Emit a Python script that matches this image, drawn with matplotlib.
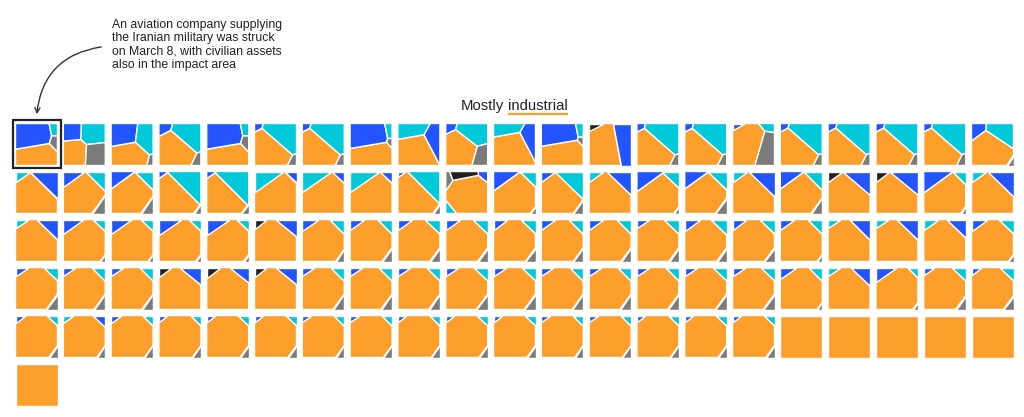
import matplotlib
matplotlib.use("Agg")
import matplotlib.pyplot as plt
from matplotlib.patches import Polygon, Rectangle, FancyArrowPatch

plt.rcParams['font.family'] = ['Liberation Sans', 'DejaVu Sans']

# share of each asset type per struck site, row by row (21 per row, last row 1)
orange = [
    .45, .32, .42, .55, .45, .55, .55, .48, .56, .50, .62, .53, .64, .55, .55, .64, .56, .56, .56, .56, .63,
    .74, .73, .72, .63, .62, .79, .79, .79, .67, .77, .77, .70, .80, .75, .73, .78, .73, .78, .78, .76, .78,
    .85, .87, .87, .85, .85, .87, .86, .86, .86, .86, .86, .86, .86, .87, .84, .86, .89, .85, .85, .86, .88,
    .87, .87, .87, .87, .88, .87, .87, .87, .87, .87, .87, .87, .87, .87, .87, .87, .89, .87, .88, .89, .89,
    .92, .91, .92, .925, .925, .925, .925, .925, .925, .925, .925, .925, .925, .925, .925, .925, 1, 1, 1, 1, 1,
    1,
]
blue = [
    .45, .17, .30, .07, .45, .03, .03, .45, .22, .05, .20, .40, .33, .03, .03, .02, .03, .03, .03, .03, .10,
    .22, .09, .12, .02, .02, .04, .04, .04, .01, .04, .15, .04, .16, .16, .12, .18, .12, .18, .18, .18, .18,
    .12, .08, .08, .10, .10, .10, .05, .04, .04, .04, .04, .04, .04, .03, .05, .04, .04, .12, .12, .10, .05,
    .03, .03, .03, .10, .08, .10, .03, .03, .03, .03, .03, .03, .03, .03, .03, .03, .05, .10, .08, .02, .02,
    .02, .04, .02, .015, .015, .015, .015, .015, .015, .015, .015, .015, .015, .015, .015, .015, 0, 0, 0, 0, 0,
    0,
]
cyan = [
    .05, .27, .25, .33, .05, .38, .38, .05, .22, .30, .18, .05, 0, .38, .38, .06, .37, .37, .37, .37, .25,
    .04, .11, .10, .33, .34, .17, .17, .17, .30, .04, .07, .22, .04, .08, .10, .04, .10, 0, 0, .05, .04,
    .03, .04, .04, .04, .04, 0, .06, .06, .06, .06, .06, .06, .06, .06, .07, .06, .06, .03, .03, .04, .06,
    .05, .05, .05, 0, 0, 0, .05, .05, .05, .05, .05, .05, .05, .05, .05, .05, .05, .03, .03, .05, .05,
    .03, .02, .03, .03, .03, .03, .03, .03, .03, .03, .03, .03, .03, .03, .03, .03, 0, 0, 0, 0, 0,
    0,
]
gray = [
    .05, .24, .03, .05, .05, .04, .04, .02, 0, .15, 0, .02, 0, .04, .04, .28, .04, .04, .04, .04, .02,
    0, .07, .06, .02, .02, 0, 0, 0, .02, .05, .01, .04, 0, .01, .05, 0, .05, 0, 0, .01, 0,
    0, .01, .01, .01, .01, 0, .03, .04, .04, .04, .04, .04, .04, .04, .04, .04, .01, 0, 0, 0, .01,
    .05, .05, .05, 0, 0, 0, .05, .05, .05, .05, .05, .05, .05, .05, .05, .05, .01, 0, .01, .04, .04,
    .03, .03, .03, .03, .03, .03, .03, .03, .03, .03, .03, .03, .03, .03, .03, .03, 0, 0, 0, 0, 0,
    0,
]
black = [
    0, 0, 0, 0, 0, 0, 0, 0, 0, 0, 0, 0, .03, 0, 0, 0, 0, 0, 0, 0, 0,
    0, 0, 0, 0, 0, 0, 0, 0, 0, .10, 0, 0, 0, 0, 0, 0, 0, .04, .04, 0, 0,
    0, 0, 0, 0, 0, .03, 0, 0, 0, 0, 0, 0, 0, 0, 0, 0, 0, 0, 0, 0, 0,
    0, 0, 0, .03, .04, .03, 0, 0, 0, 0, 0, 0, 0, 0, 0, 0, 0, 0, 0, 0, 0,
    0, 0, 0, 0, 0, 0, 0, 0, 0, 0, 0, 0, 0, 0, 0, 0, 0, 0, 0, 0, 0,
    0,
]

title_left, title_right = "Mostly", "industrial"
note = ("An aviation company supplying\nthe Iranian military was struck\n"
        "on March 8, with civilian assets\nalso in the impact area")

# ---- layout: seed points for the little power-diagram squares ----
layout_rows = ["TQ3DTDDTRXRTMDDSDDDDZ",
               "BAAAABBBAWAABAABAKKAB",
               "BAAAAKAAAAAAAAAAABBBA",
               "AAAKKKAAAAAAAAAAABAAA",
               "ABAAAAAAAAAAAAAAAAAAA",
               "A"]
TL, TR, BR, BL = (0.0, 1.0), (1.0, 1.0), (1.0, 0.0), (0.0, 0.0)
MID = (0.42, 0.42)
SITES = {
    'A': dict(o=MID, b=TL, c=TR, g=BR),
    'B': dict(o=MID, c=TL, b=TR, g=BR),
    'K': dict(o=(0.48, 0.38), k=TL, b=TR, g=BR),
    'T': dict(o=(0.47, 0.15), b=(0.36, 0.8), c=(0.97, 0.92), g=(0.97, 0.62)),
    'Q': dict(b=(0.2, 0.82), c=(0.72, 0.8), o=(0.25, 0.28), g=(0.78, 0.25)),
    '3': dict(b=(0.3, 0.72), c=(0.85, 0.65), o=(0.4, 0.15), g=BR),
    'D': dict(b=TL, c=(0.75, 0.78), o=(0.35, 0.32), g=BR),
    'R': dict(c=(0.3, 0.92), b=(0.88, 0.6), o=(0.4, 0.35)),
    'X': dict(b=TL, c=(0.72, 0.78), o=(0.35, 0.3), g=(0.88, 0.15)),
    'M': dict(k=TL, o=(0.3, 0.45), b=(0.85, 0.55)),
    'S': dict(b=TL, o=(0.3, 0.45), c=(0.92, 0.95), g=(0.82, 0.3)),
    'Z': dict(b=(0.08, 0.85), c=(0.75, 0.8), o=(0.45, 0.35), g=BR),
    'W': dict(g=(0.03, 0.8), k=(0.45, 0.95), b=TR, c=BL, o=(0.55, 0.45)),
}
COLORS = dict(o='#FE9F2C', b='#2255FF', c='#00C9D9', g='#7B7B7B', k='#222222')


def clip(poly, a, b):
    # keep the part of poly where a.x <= b
    out = []
    n = len(poly)
    for i in range(n):
        P, Q = poly[i], poly[(i + 1) % n]
        fp = a[0] * P[0] + a[1] * P[1] - b
        fq = a[0] * Q[0] + a[1] * Q[1] - b
        if fp <= 0:
            out.append(P)
        if fp * fq < 0:
            t = fp / (fp - fq)
            out.append((P[0] + t * (Q[0] - P[0]), P[1] + t * (Q[1] - P[1])))
    return out


def area(poly):
    s = 0.0
    for i in range(len(poly)):
        x1, y1 = poly[i]
        x2, y2 = poly[(i + 1) % len(poly)]
        s += x1 * y2 - x2 * y1
    return abs(s) / 2


def power_cells(pts, w):
    cells = []
    for i, pi in enumerate(pts):
        poly = [(0, 0), (1, 0), (1, 1), (0, 1)]
        for j, pj in enumerate(pts):
            if i == j:
                continue
            a = (2 * (pj[0] - pi[0]), 2 * (pj[1] - pi[1]))
            b = pj[0] ** 2 + pj[1] ** 2 - pi[0] ** 2 - pi[1] ** 2 - w[j] + w[i]
            poly = clip(poly, a, b)
            if not poly:
                break
        cells.append(poly)
    return cells


def voronoi_square(shares, sites):
    keys = [k for k in shares if shares[k] > 0]
    tot = sum(shares[k] for k in keys)
    target = [shares[k] / tot for k in keys]
    pts = [sites[k] for k in keys]
    if len(keys) == 1:
        return [(keys[0], [(0, 0), (1, 0), (1, 1), (0, 1)])]
    w = [0.0] * len(keys)
    for it in range(700):
        cells = power_cells(pts, w)
        err = [t - area(c) if c else t for t, c in zip(target, cells)]
        if max(abs(e) for e in err) < 3e-4:
            break
        w = [wi + 0.9 * e for wi, e in zip(w, err)]
    return list(zip(keys, cells))


fig = plt.figure(figsize=(10.24, 4.17), dpi=100)
ax = fig.add_axes([0, 0, 1, 1])
ax.set_xlim(0, 1024)
ax.set_ylim(417, 0)
ax.axis('off')

X0, Y0, PX, PY, S = 15.5, 123.5, 47.8, 48.0, 42.0
codes = "".join(layout_rows)
for idx, code in enumerate(codes):
    r, c = divmod(idx, 21)
    x0 = X0 + c * PX
    y0 = Y0 + r * PY
    shares = dict(o=orange[idx], b=blue[idx], c=cyan[idx], g=gray[idx], k=black[idx])
    for key, poly in voronoi_square(shares, SITES[code]):
        if len(poly) < 3:
            continue
        xy = [(x0 + u * S, y0 + (1 - v) * S) for u, v in poly]
        ax.add_patch(Polygon(xy, closed=True, facecolor=COLORS[key],
                             edgecolor='white', lw=1.0, joinstyle='round'))

# highlight box around the first square
ax.add_patch(Rectangle((12.7, 120.2), 48.6, 47.8, fill=False, edgecolor='#222222', lw=1.6))

ax.text(111.5, 18.5, note, fontsize=8.8, color='#222222', ha='left', va='top',
        linespacing=1.16)
ax.add_patch(FancyArrowPatch(posA=(104, 46.5), posB=(36.5, 117), connectionstyle='arc3,rad=0.4',
                             arrowstyle='->', mutation_scale=9, lw=1.0, color='#333333'))

t1 = ax.text(504.5, 109.5, title_left, fontsize=10.7, color='#222222', ha='right', va='baseline')
t2 = ax.text(508, 109.5, title_right, fontsize=10.7, color='#222222', ha='left', va='baseline')
fig.canvas.draw()
bb = t2.get_window_extent(renderer=fig.canvas.get_renderer())
inv = ax.transData.inverted()
(xa, _), (xb, _) = inv.transform([(bb.x0, bb.y0), (bb.x1, bb.y0)])
ax.plot([xa, xb], [113.5, 113.5], color='#FE9F2C', lw=1.6, solid_capstyle='butt')

fig.savefig('out.png', dpi=100)
